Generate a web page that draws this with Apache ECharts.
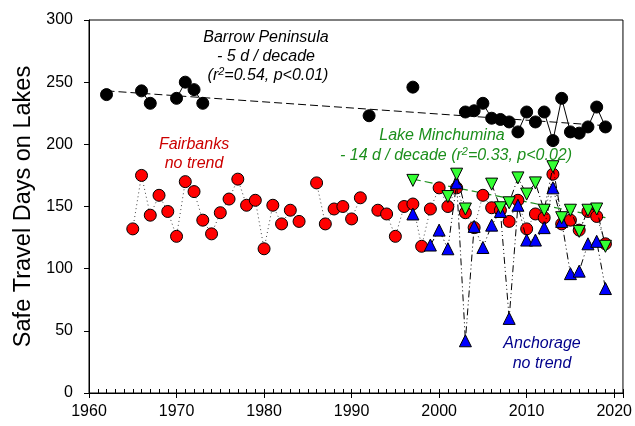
<!DOCTYPE html>
<html lang="en">
<head>
<meta charset="UTF-8">
<title>Safe Travel Days on Lakes</title>
<script src="https://cdn.jsdelivr.net/npm/echarts@6/dist/echarts.min.js"></script>
<style>
  html, body { margin: 0; padding: 0; background: #fff; }
  #main { width: 635px; height: 426px; }
</style>
</head>
<body>
<div id="main"></div>
<script>
// data
var barrowYears = [1962, 1966, 1967, 1970, 1971, 1972, 1973, 1992, 1997,
  2003, 2004, 2005, 2006, 2007, 2008, 2009, 2010, 2011, 2012, 2013, 2014, 2015, 2016, 2017, 2018, 2019];
var barrowDays = [240, 243, 233, 237, 250, 244, 233, 223, 246,
  226, 227, 233, 221, 220, 218, 210, 226, 218, 226, 203, 237, 210, 209, 214, 230, 214];

var fairbanksYears = [1965, 1966, 1967, 1968, 1969, 1970, 1971, 1972, 1973, 1974, 1975, 1976, 1977, 1978, 1979,
  1980, 1981, 1982, 1983, 1984, 1986, 1987, 1988, 1989, 1990, 1991, 1993, 1994, 1995, 1996, 1997, 1998, 1999,
  2000, 2001, 2002, 2003, 2004, 2005, 2006, 2007, 2008, 2009, 2010, 2011, 2012, 2013, 2014, 2015, 2016, 2017, 2018, 2019];
var fairbanksDays = [132, 175, 143, 159, 146, 126, 170, 162, 139, 128, 145, 156, 172, 151, 155,
  116, 151, 136, 147, 138, 169, 136, 148, 150, 140, 157, 147, 144, 126, 150, 152, 118, 148,
  165, 150, 165, 145, 133, 159, 149, 147, 138, 155, 132, 144, 141, 176, 136, 139, 131, 146, 142, 120];

var anchorageYears = [1997, 1999, 2000, 2001, 2002, 2003, 2004, 2005, 2006, 2007, 2008,
  2009, 2010, 2011, 2012, 2013, 2014, 2015, 2016, 2017, 2018, 2019];
var anchorageDays = [144, 119, 131, 116, 169, 42, 134, 117, 135, 146, 60,
  151, 123, 123, 133, 165, 138, 96, 98, 120, 122, 84];

var minchYears = [1997, 2001, 2002, 2003, 2006, 2007, 2008, 2009, 2010, 2011, 2012, 2013, 2014, 2015, 2016, 2017, 2018, 2019];
var minchDays = [171, 158, 176, 148, 168, 149, 153, 173, 160, 169, 147, 182, 141, 147, 130, 147, 148, 118];

// fitted trend lines (end points)
var barrowTrendYears = [1962, 2019];
var barrowTrendDays = [243, 215];
var minchTrendYears = [1997, 2019];
var minchTrendDays = [172, 141];

var xTicks = [1960, 1970, 1980, 1990, 2000, 2010, 2020];

var FONT = '"Liberation Sans", Arial, sans-serif';

// pairs, with a break wherever a year is missing
function withGaps(years, vals) {
  var out = [];
  for (var i = 0; i < years.length; i++) {
    if (i > 0 && years[i] - years[i - 1] > 1) out.push([years[i - 1] + 0.5, '-']);
    out.push([years[i], vals[i]]);
  }
  return out;
}
function pairs(years, vals) {
  return years.map(function (y, i) { return [y, vals[i]]; });
}

var chart = echarts.init(document.getElementById('main'));

var option = {
  animation: false,
  backgroundColor: '#fff',
  grid: { left: 89, right: 11, top: 20, bottom: 33, show: true, borderColor: '#000', borderWidth: 1 },
  xAxis: [
    {
      type: 'value', min: 1960, max: 2021, interval: 10, position: 'bottom',
      axisLine: { lineStyle: { color: '#000', width: 1 } },
      axisTick: { inside: false, length: 5, lineStyle: { color: '#000' } },
      axisLabel: {
        margin: 11, color: '#000', fontSize: 16, fontFamily: FONT,
        formatter: function (v) { return xTicks.indexOf(v) >= 0 ? String(v) : ''; }
      },
      splitLine: { show: false }
    },
    {
      // yearly ticks
      type: 'value', min: 1960, max: 2021, interval: 1, position: 'bottom',
      axisLine: { show: false },
      axisTick: { inside: true, length: 4, lineStyle: { color: '#000' } },
      axisLabel: { show: false },
      splitLine: { show: false }
    }
  ],
  yAxis: {
    type: 'value', min: 0, max: 300, interval: 50,
    name: 'Safe Travel Days on Lakes', nameLocation: 'middle', nameGap: 47,
    nameTextStyle: { fontSize: 23.5, color: '#000', fontFamily: FONT },
    axisLine: { show: true, lineStyle: { color: '#000', width: 1 } },
    axisTick: { show: true, inside: false, length: 5, lineStyle: { color: '#000' } },
    axisLabel: { margin: 16, color: '#000', fontSize: 16, fontFamily: FONT },
    splitLine: { show: false }
  },
  series: [
    {
      name: 'Barrow trend', type: 'line', data: pairs(barrowTrendYears, barrowTrendDays),
      showSymbol: false, symbol: 'none', z: 1,
      lineStyle: { color: '#000', width: 1, type: [8, 4] }
    },
    {
      name: 'Minchumina trend', type: 'line', data: pairs(minchTrendYears, minchTrendDays),
      showSymbol: false, symbol: 'none', z: 1,
      lineStyle: { color: '#1c8f1c', width: 1.2, type: [8, 4] }
    },
    {
      name: 'Barrow Peninsula', type: 'line', data: withGaps(barrowYears, barrowDays),
      symbol: 'circle', symbolSize: 12, connectNulls: false, z: 3,
      itemStyle: { color: '#000', borderColor: '#000', borderWidth: 1 },
      lineStyle: { color: '#000', width: 1 }
    },
    {
      name: 'Fairbanks', type: 'line', data: withGaps(fairbanksYears, fairbanksDays),
      symbol: 'circle', symbolSize: 12, connectNulls: false, z: 3,
      itemStyle: { color: '#ff0000', borderColor: '#000', borderWidth: 1 },
      lineStyle: { color: '#444', width: 1, type: [1, 3] }
    },
    {
      name: 'Anchorage', type: 'line', data: withGaps(anchorageYears, anchorageDays),
      symbol: 'triangle', symbolSize: 12, connectNulls: false, z: 4,
      itemStyle: { color: '#0000ff', borderColor: '#000', borderWidth: 1 },
      lineStyle: { color: '#000', width: 1, type: [7, 3, 1, 3, 1, 3] }
    },
    {
      name: 'Lake Minchumina', type: 'line', data: withGaps(minchYears, minchDays),
      symbol: 'triangle', symbolRotate: 180, symbolSize: 12, connectNulls: false, z: 5,
      itemStyle: { color: '#33ff33', borderColor: '#000', borderWidth: 1 },
      lineStyle: { color: '#000', width: 1, type: [7, 3, 1, 3] }
    }
  ],
  graphic: []
};

function label(x, y, text, color) {
  return {
    type: 'text', x: x, y: y, z: 10,
    style: {
      text: text,
      font: 'italic 16px ' + FONT,
      fill: color,
      align: 'center', verticalAlign: 'middle',
      textAlign: 'center', textVerticalAlign: 'middle',
      rich: {
        sup: { fontStyle: 'italic', fontFamily: FONT, fontSize: 11, fill: color, padding: [0, 0, 9, 0] }
      }
    }
  };
}

option.graphic = [
  label(266, 38, 'Barrow Peninsula', '#000'),
  label(266, 57, '- 5 d / decade', '#000'),
  label(268, 76, '(r{sup|2}=0.54, p<0.01)', '#000'),
  label(194, 145, 'Fairbanks', '#cc0000'),
  label(194, 164, 'no trend', '#cc0000'),
  label(442, 136, 'Lake Minchumina', '#1c8f1c'),
  label(456, 156, '- 14 d / decade (r{sup|2}=0.33, p<0.02)', '#1c8f1c'),
  label(542, 344, 'Anchorage', '#00008b'),
  label(542, 364, 'no trend', '#00008b')
];

chart.setOption(option);
</script>
</body>
</html>
